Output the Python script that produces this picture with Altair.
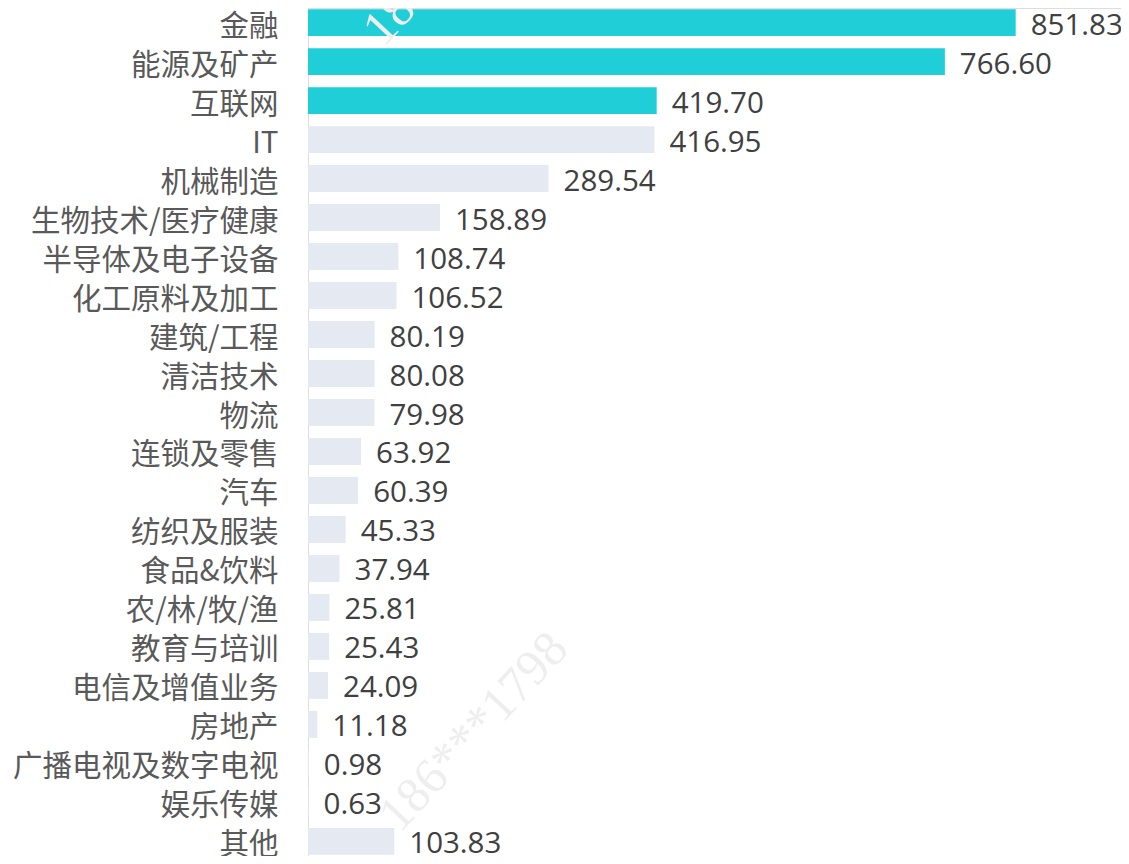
import altair as alt
import pandas as pd

categories = ["金融", "能源及矿产", "互联网", "IT", "机械制造", "生物技术/医疗健康",
              "半导体及电子设备", "化工原料及加工", "建筑/工程", "清洁技术", "物流",
              "连锁及零售", "汽车", "纺织及服装", "食品&饮料", "农/林/牧/渔",
              "教育与培训", "电信及增值业务", "房地产", "广播电视及数字电视", "娱乐传媒", "其他"]
values = [851.83, 766.60, 419.70, 416.95, 289.54, 158.89, 108.74, 106.52, 80.19, 80.08,
          79.98, 63.92, 60.39, 45.33, 37.94, 25.81, 25.43, 24.09, 11.18, 0.98, 0.63, 103.83]
highlight = [True, True, True] + [False] * 19
watermark_text = "186***1798"

df = pd.DataFrame({"cat": categories, "val": values, "hl": highlight,
                   "lab": [f"{v:.2f}" for v in values]})

y = alt.Y("cat:N", sort=categories, title=None,
          scale=alt.Scale(paddingInner=0.31, paddingOuter=0.03),
          axis=alt.Axis(domain=False, ticks=False, labelPadding=30, labelFontSize=29.5,
                        labelFont="Noto Sans CJK SC", labelColor="#595959",
                        labelOffset=4, labelLimit=400))
x = alt.X("val:Q", title=None, scale=alt.Scale(domain=[0, 978.6], nice=False, zero=True),
          axis=None)

bars = alt.Chart(df).mark_bar().encode(
    y=y, x=x,
    color=alt.Color("hl:N", scale=alt.Scale(domain=[True, False], range=["#20CED8", "#E4E9F2"]),
                    legend=None),
)
text = alt.Chart(df).mark_text(align="left", baseline="middle", dx=15, dy=3, fontSize=29.5,
                               font="Open Sans", color="#404040").encode(
    y=alt.Y("cat:N", sort=categories), x=x, text="lab:N")

wm = pd.DataFrame({"t": [watermark_text]})
wm1 = alt.Chart(wm).mark_text(angle=313, fontSize=50, font="Liberation Serif",
                              color="#EEEEEE", align="center", baseline="middle").encode(
    text="t:N", x=alt.value(166), y=alt.value(724))
wm2 = alt.Chart(wm).mark_text(angle=313, fontSize=50, font="Liberation Serif",
                              color="#EEEEEE", align="center", baseline="middle").encode(
    text="t:N", x=alt.value(150), y=alt.value(-62))

chart = alt.layer(bars, wm1, wm2, text).properties(
    width=813, height=848,
    autosize=alt.AutoSizeParams(type="none"),
    padding={"left": 300, "top": 0, "right": 0, "bottom": 0},
).configure_view(stroke=None).configure(background="white")

chart.save("out.html", embed_options={"renderer": "svg", "actions": False})
